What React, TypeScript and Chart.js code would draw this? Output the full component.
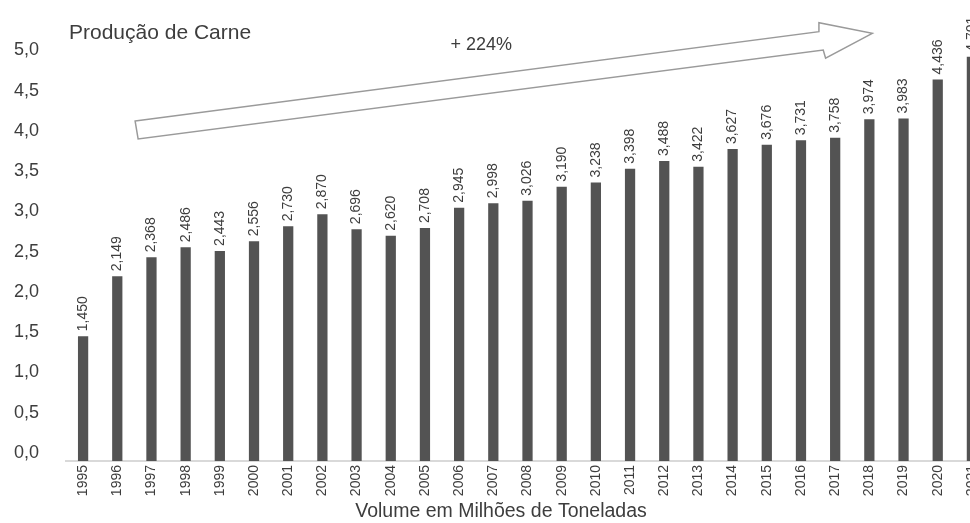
import React, { useEffect, useRef } from "react";
import { Chart, registerables } from "chart.js";

Chart.register(...registerables);

const years = [
  "1995", "1996", "1997", "1998", "1999", "2000", "2001", "2002", "2003",
  "2004", "2005", "2006", "2007", "2008", "2009", "2010", "2011", "2012",
  "2013", "2014", "2015", "2016", "2017", "2018", "2019", "2020", "2021",
];
const production = [
  1.45, 2.149, 2.368, 2.486, 2.443, 2.556, 2.73, 2.87, 2.696,
  2.62, 2.708, 2.945, 2.998, 3.026, 3.19, 3.238, 3.398, 3.488,
  3.422, 3.627, 3.676, 3.731, 3.758, 3.974, 3.983, 4.436, 4.701,
];
const yTickValues = [0, 0.5, 1, 1.5, 2, 2.5, 3, 3.5, 4, 4.5, 5];
const chartTitle = "Produção de Carne";
const xAxisTitle = "Volume em Milhões de Toneladas";
const growthLabel = "+ 224%";

// arrow outline in (category index, value) coordinates
const arrowShape: [number, number][] = [
  [1.522, 3.953],
  [21.525, 4.992],
  [21.525, 5.097],
  [23.086, 4.973],
  [21.72, 4.683],
  [21.651, 4.779],
  [1.61, 3.744],
];
const growthLabelPos: [number, number] = [11.65, 4.837];

const FONT = '"Liberation Sans", Arial, Helvetica, sans-serif';
const TEXT = "#3d3d3d";

const fmt = (v: number, d: number) => v.toFixed(d).replace(".", ",");

export default function App() {
  const ref = useRef<HTMLCanvasElement>(null);

  useEffect(() => {
    const canvas = ref.current!;
    const overlay = {
      id: "overlay",
      afterDatasetsDraw(chart: any) {
        const ctx = chart.ctx as CanvasRenderingContext2D;
        const xs = chart.scales.x;
        const ys = chart.scales.y;
        const area = chart.chartArea;
        const meta = chart.getDatasetMeta(0);
        ctx.save();
        // value labels
        ctx.fillStyle = TEXT;
        ctx.font = `14px ${FONT}`;
        ctx.textAlign = "left";
        ctx.textBaseline = "middle";
        meta.data.forEach((bar: any, i: number) => {
          ctx.save();
          ctx.translate(bar.x, bar.y - 5);
          ctx.rotate(-Math.PI / 2);
          ctx.fillText(fmt(production[i], 3), 0, 0);
          ctx.restore();
        });
        // arrow
        ctx.beginPath();
        arrowShape.forEach(([i, v], k) => {
          const px = xs.getPixelForValue(i);
          const py = ys.getPixelForValue(v);
          if (k === 0) ctx.moveTo(px, py);
          else ctx.lineTo(px, py);
        });
        ctx.closePath();
        ctx.fillStyle = "#ffffff";
        ctx.fill();
        ctx.strokeStyle = "#9a9a9a";
        ctx.lineWidth = 1.5;
        ctx.lineJoin = "miter";
        ctx.stroke();
        // growth label
        ctx.fillStyle = TEXT;
        ctx.font = `18px ${FONT}`;
        ctx.textAlign = "center";
        ctx.textBaseline = "middle";
        ctx.fillText(
          growthLabel,
          xs.getPixelForValue(growthLabelPos[0]),
          ys.getPixelForValue(growthLabelPos[1])
        );
        // chart title
        ctx.font = `21px ${FONT}`;
        ctx.textAlign = "left";
        ctx.fillText(chartTitle, area.left + 3, 33);
        // x axis title
        ctx.font = `19.5px ${FONT}`;
        ctx.textAlign = "center";
        ctx.fillText(xAxisTitle, area.left + 435, 512);
        ctx.restore();
      },
    };

    const chart = new Chart(canvas, {
      type: "bar",
      data: {
        labels: years,
        datasets: [
          {
            data: production,
            backgroundColor: "#535353",
            borderWidth: 0,
            barPercentage: 0.3,
            categoryPercentage: 1,
            yAxisID: "y",
          },
        ],
      },
      options: {
        responsive: false,
        animation: false,
        devicePixelRatio: 1,
        layout: { padding: 0 },
        plugins: {
          legend: { display: false },
          tooltip: { enabled: false },
          title: { display: false },
        },
        scales: {
          x: {
            type: "category",
            position: "bottom",
            offset: true,
            grid: { display: false, drawTicks: false },
            border: { display: true, color: "#d9d9d9", width: 2 },
            ticks: {
              color: TEXT,
              font: { family: FONT, size: 14 },
              minRotation: 90,
              maxRotation: 90,
              autoSkip: false,
              padding: 4,
            },
            afterFit(scale: any) {
              scale.height = 62;
              scale.paddingLeft = 0;
              scale.paddingRight = 0;
            },
          },
          y: {
            type: "linear",
            display: false,
            min: 0,
            max: 461 / 86,
          },
          yLabels: {
            type: "linear",
            position: "left",
            display: true,
            min: -0.0994,
            max: 5.6273,
            grid: { display: false, drawTicks: false },
            border: { display: false },
            afterBuildTicks(scale: any) {
              scale.ticks = yTickValues.map((v) => ({ value: v }));
            },
            ticks: {
              color: TEXT,
              font: { family: FONT, size: 18 },
              padding: 27,
              callback: (v: any) => fmt(Number(v), 1),
            },
            afterFit(scale: any) {
              scale.width = 66;
              scale.paddingTop = 0;
              scale.paddingBottom = 0;
            },
          },
        },
      } as any,
      plugins: [overlay],
    });
    return () => chart.destroy();
  }, []);

  return (
    <div
      style={{
        position: "fixed",
        left: 0,
        top: 0,
        width: 970,
        height: 523,
        overflow: "hidden",
        background: "#ffffff",
      }}
    >
      <canvas ref={ref} width={989} height={523} style={{ display: "block" }} />
    </div>
  );
}
